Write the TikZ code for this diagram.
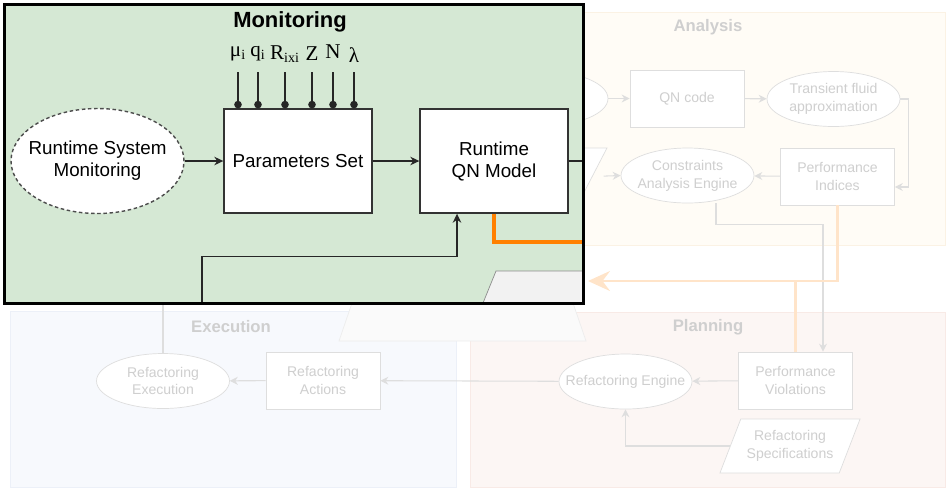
\documentclass[tikz,border=0pt]{standalone}
\usepackage{fontspec}
\setmainfont{Liberation Sans}
\newfontfamily\symfont{Liberation Serif}
\usetikzlibrary{positioning, arrows.meta, shapes.geometric, backgrounds}

\definecolor{mongreen}{HTML}{D5E8D4}
\definecolor{anafill}{HTML}{FFFCF6}
\definecolor{anaedge}{HTML}{FBF2E4}
\definecolor{planfill}{HTML}{FCF6F4}
\definecolor{planedge}{HTML}{F8EAE6}
\definecolor{exefill}{HTML}{F7F9FD}
\definecolor{exeedge}{HTML}{ECF0F8}
\definecolor{ghosttext}{HTML}{CFCFCF}
\definecolor{ghostline}{HTML}{DEDEDE}
\definecolor{hotorange}{HTML}{FF8000}
\definecolor{paleorange}{HTML}{FFE4C9}

\begin{document}
\begin{tikzpicture}[x=0.02cm, y=-0.02cm,
    mbox/.style  = {draw=black!80, thick, fill=white, align=center,
                    font=\fontsize{10.7}{12.5}\selectfont,
                    minimum width=2.96cm, minimum height=2.08cm},
    mell/.style  = {ellipse, draw=black!70, thick, dash pattern=on 2pt off 1.5pt,
                    fill=white, align=center,
                    font=\fontsize{10.7}{12.5}\selectfont, inner xsep=-5pt, inner ysep=2pt,
                    minimum width=3.46cm, minimum height=2.1cm},
    title/.style = {font=\fontsize{12.5}{14}\selectfont\bfseries},
    sym/.style   = {font=\fontsize{12}{14}\selectfont\symfont, inner sep=1pt},
    flow/.style  = {-{Stealth[length=1.8mm, width=1.7mm]}, thick, black!85},
    pin/.style   = {-{Circle[length=1.5mm]}, thick, black!85},
    mline/.style = {thick, black!85},
    hot/.style   = {line width=1.8pt, hotorange},
    gbox/.style  = {draw=ghostline, fill=white, text=ghosttext, align=center,
                    font=\fontsize{8}{10.2}\selectfont,
                    minimum width=2.28cm, minimum height=1.14cm},
    gell/.style  = {gbox, ellipse, inner xsep=-8pt, inner ysep=1pt,
                    minimum width=2.66cm, minimum height=1.1cm},
    gpar/.style  = {gbox, trapezium, trapezium stretches=true},
    gflow/.style = {-{Stealth[length=1.6mm, width=1.6mm]}, semithick, ghostline},
    gline/.style = {semithick, ghostline},
    gwarm/.style = {-{Stealth[length=4.4mm, width=4mm, inset=1.5mm]},
                    line width=1.6pt, paleorange},
    lane/.style  = {font=\fontsize{9.5}{11}\selectfont\bfseries, text=ghosttext},
  ]
    \useasboundingbox (0,0) rectangle (946,488);

    % --- monitoring panel ---
    \node[fill=mongreen, inner sep=0, minimum width=11.56cm, minimum height=5.96cm]
        (monbox) at (294,154) {};
    \node[title] (mtitle) at (290,22) {Monitoring};

    \node[mell] (rsm) at (97.5,161) {Runtime System\\ Monitoring};
    \node[mbox] (par) at (298,161)  {Parameters Set};
    \node[mbox] (qn)  at (494,161)  {Runtime\\ QN Model};

    % --- model parameters ---
    \coordinate (ptop) at (0,72);
    \node[sym] (pmu)  at (238,54) {μ\textsubscript{i}};
    \node[sym] (pq)   at (258,54) {q\textsubscript{i}};
    \node[sym] (pr)   at (285,54) {R\textsubscript{ixi}};
    \node[sym] (pz)   at (312,54) {Z};
    \node[sym] (pn)   at (333,52) {N};
    \node[sym] (plam) at (354,55) {λ};
    \draw[pin] (pmu |- ptop)  -- (pmu |- par.north);
    \draw[pin] (pq |- ptop)   -- (pq |- par.north);
    \draw[pin] (pr |- ptop)   -- (pr |- par.north);
    \draw[pin] (pz |- ptop)   -- (pz |- par.north);
    \draw[pin] (pn |- ptop)   -- (pn |- par.north);
    \draw[pin] (plam |- ptop) -- (plam |- par.north);

    % --- monitoring flow ---
    \draw[flow]  (rsm) -- (par);
    \draw[flow]  (par) -- (qn);
    \draw[mline] (qn.east) -- (qn.east -| monbox.east);
    \draw[hot]   (qn.south) |- ([yshift=-1.76cm]monbox.east);
    \draw[flow]  ([xshift=-1.84cm]monbox.south) -- ++(0,-47) -| ([xshift=-0.74cm]qn.south);

    % --- knowledge corner ---
    \filldraw[fill=black!5, draw=black!45] (496,271) -- (583,271) -- (583,303) -- (483,303) -- cycle;
    \draw[line width=1.4pt] (monbox.south west) rectangle (monbox.north east);

    \begin{scope}[on background layer]
      % --- phase areas ---
      \filldraw[fill=anafill, draw=anaedge]   (480,12) rectangle (945,245);
      \filldraw[fill=exefill, draw=exeedge]   (10,311) rectangle (456,487);
      \filldraw[fill=planfill, draw=planedge] (470,312) rectangle (945,487);
      \filldraw[fill=black!2, draw=black!7] (353,300) -- (572,300) -- (586,341) -- (339,341) -- cycle;

      \node[lane] (lana)  at (708,27)  {Analysis};
      \node[lane] (lexe)  at (231,327) {Execution};
      \node[lane] (lplan) at (708,327) {Planning};

      % --- analysis ---
      \node[gell] (mte) at (541.5,98.5) {};
      \node[gpar, trapezium left angle=70, trapezium right angle=110,
            minimum width=2.8cm] (cin) at (537,176.5) {};
      \node[gbox] (qnc) at (687,98.5)    {QN code};
      \node[gell] (tfa) at (833.5,99)    {Transient fluid\\ approximation};
      \node[gell] (cae) at (687.5,175.5) {Constraints\\ Analysis Engine};
      \node[gbox] (pi)  at (837.5,176.5) {Performance\\ Indices};

      \draw[gflow] (mte) -- (qnc);
      \draw[gflow] (qnc) -- (tfa);
      \draw[gflow] (tfa.east) -- ++(8,0) |- ([yshift=-0.21cm]pi.east);
      \draw[gflow] (pi) -- (cae);
      \draw[gflow, shorten <=0.22cm] (cin.east) -- (cae.west);

      % --- planning ---
      \node[gell] (eng)  at (625.5,381.5) {Refactoring Engine};
      \node[gbox] (pv)   at (795.5,380.5) {Performance\\ Violations};
      \node[gpar, trapezium left angle=64, trapezium right angle=116,
            minimum width=2.8cm, minimum height=1.08cm] (spec) at (790,446)
            {Refactoring\\ Specifications};

      \draw[gflow] ([xshift=0.57cm]cae.south) -- ++(0,21) -| ([xshift=0.55cm]pv.north);
      \draw[gflow] (pv) -- (eng);
      \draw[gflow] (spec.west) -| (eng.south);

      \coordinate (kback) at (588,281);
      \draw[gwarm] (pi.south) |- (kback);
      \draw[line width=1.6pt, paleorange] (pv.north) -- (pv.north |- kback);

      % --- execution ---
      \node[gell] (rex) at (163,381)   {Refactoring\\ Execution};
      \node[gbox] (act) at (323,380.5) {Refactoring\\ Actions};

      \draw[gflow] (eng) -- (act);
      \draw[gflow] (act) -- (rex);
      \draw[gline] (rex.north) -- (rex.north |- monbox.south);
    \end{scope}
  \end{tikzpicture}
\end{document}
